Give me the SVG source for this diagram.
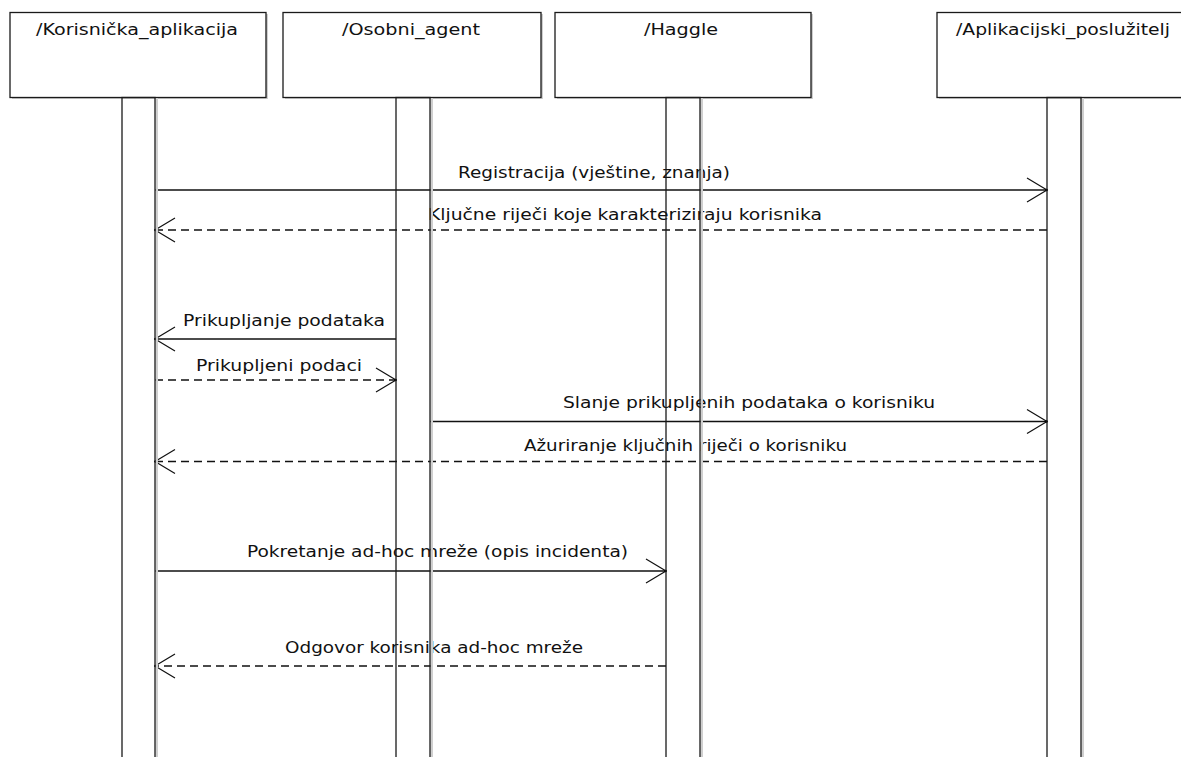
<svg xmlns="http://www.w3.org/2000/svg" width="1181" height="757" viewBox="0 0 1181 757">
  <style>
    .head { fill: #fff; stroke: #1a1a1a; stroke-width: 1.3; }
    .shadow { fill: #cfcfcf; stroke: none; }
    .life { fill: none; stroke: #1a1a1a; stroke-width: 1.3; }
    .lbl { font-family: "DejaVu Sans", "Liberation Sans", sans-serif; font-size: 16px; fill: #111; }
    .msg { stroke: #111; stroke-width: 1.3; fill: none; }
    .sync { marker-end: url(#open); }
    .reply { stroke-dasharray: 8 5; marker-end: url(#open); }
  </style>
  <defs>
    <marker id="open" viewBox="-22 -14 24 28" refX="0" refY="0" markerWidth="24" markerHeight="28" markerUnits="userSpaceOnUse" orient="auto">
      <path d="M-20,-12 L0,0 L-20,12" fill="none" stroke="#111" stroke-width="1.2"/>
      <circle cx="-0.5" cy="0" r="1.3" fill="#000"/>
    </marker>
  </defs>
  <rect width="1181" height="757" fill="#fff"/>

  <!-- messages -->
  <g id="connectors">
    <line class="msg sync" x1="155" y1="190" x2="1047" y2="190"/>
    <line class="msg reply" x1="1047" y1="230" x2="155" y2="230"/>
    <line class="msg sync" x1="396" y1="339" x2="155" y2="339"/>
    <line class="msg reply" x1="155" y1="380" x2="396" y2="380"/>
    <line class="msg sync" x1="430" y1="421.5" x2="1047" y2="421.5"/>
    <line class="msg reply" x1="1047" y1="461.5" x2="155" y2="461.5"/>
    <line class="msg sync" x1="155" y1="571" x2="666" y2="571"/>
    <line class="msg reply" x1="666" y1="666" x2="155" y2="666"/>

    <text class="lbl" x="458" y="178" textLength="272" lengthAdjust="spacingAndGlyphs">Registracija (vještine, znanja)</text>
    <text class="lbl" x="428" y="220" textLength="394" lengthAdjust="spacingAndGlyphs">Ključne riječi koje karakteriziraju korisnika</text>
    <text class="lbl" x="183" y="326" textLength="202" lengthAdjust="spacingAndGlyphs">Prikupljanje podataka</text>
    <text class="lbl" x="196" y="371" textLength="166" lengthAdjust="spacingAndGlyphs">Prikupljeni podaci</text>
    <text class="lbl" x="563" y="408" textLength="372" lengthAdjust="spacingAndGlyphs">Slanje prikupljenih podataka o korisniku</text>
    <text class="lbl" x="524" y="451" textLength="323" lengthAdjust="spacingAndGlyphs">Ažuriranje ključnih riječi o korisniku</text>
    <text class="lbl" x="247" y="557" textLength="381" lengthAdjust="spacingAndGlyphs">Pokretanje ad-hoc mreže (opis incidenta)</text>
    <text class="lbl" x="285" y="653" textLength="298" lengthAdjust="spacingAndGlyphs">Odgovor korisnika ad-hoc mreže</text>
  </g>

  <!-- participants -->
  <g id="korisnicka_aplikacija">
    <rect class="shadow" x="12" y="14" width="256" height="85"/>
    <rect class="head" x="10" y="12.5" width="256" height="85"/>
    <text class="lbl" x="36" y="35" textLength="202" lengthAdjust="spacingAndGlyphs">/Korisnička_aplikacija</text>
    <rect class="shadow" x="155.5" y="98" width="2.5" height="660"/>
    <rect class="life" x="122" y="97.5" width="33" height="670"/>
  </g>

  <g id="osobni_agent">
    <rect class="shadow" x="285" y="14" width="258" height="85"/>
    <rect class="head" x="283" y="12.5" width="258" height="85"/>
    <text class="lbl" x="342" y="35" textLength="138" lengthAdjust="spacingAndGlyphs">/Osobni_agent</text>
    <rect class="shadow" x="430.5" y="98" width="2.5" height="660"/>
    <rect class="life" x="396" y="97.5" width="34" height="670"/>
  </g>

  <g id="haggle">
    <rect class="shadow" x="557" y="14" width="256" height="85"/>
    <rect class="head" x="555" y="12.5" width="256" height="85"/>
    <text class="lbl" x="644" y="35" textLength="74" lengthAdjust="spacingAndGlyphs">/Haggle</text>
    <rect class="shadow" x="700.5" y="98" width="2.5" height="660"/>
    <rect class="life" x="666" y="97.5" width="34" height="670"/>
  </g>

  <g id="aplikacijski_posluzitelj">
    <rect class="shadow" x="939" y="14" width="256" height="85"/>
    <rect class="head" x="937" y="12.5" width="256" height="85"/>
    <text class="lbl" x="956" y="35" textLength="214" lengthAdjust="spacingAndGlyphs">/Aplikacijski_poslužitelj</text>
    <rect class="shadow" x="1081.5" y="98" width="2.5" height="660"/>
    <rect class="life" x="1047" y="97.5" width="34" height="670"/>
  </g>
</svg>
